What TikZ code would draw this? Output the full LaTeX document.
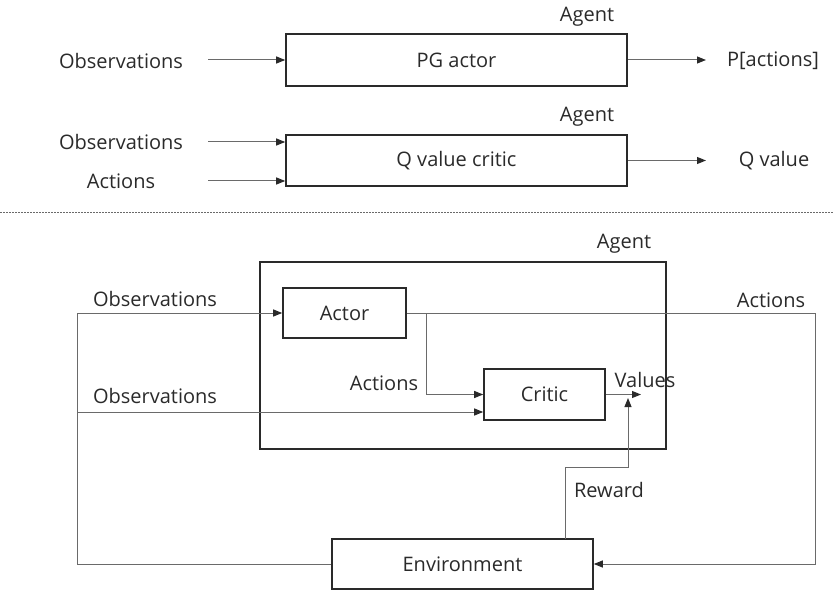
\documentclass[tikz,border=0pt]{standalone}
\usepackage{fontspec}
\setmainfont{Open Sans}
\usetikzlibrary{positioning,arrows.meta}

\definecolor{ink}{HTML}{2A2A2A}
\definecolor{wire}{HTML}{6A6A6A}

\begin{document}
\begin{tikzpicture}[x=1pt,y=-1pt,font=\fontsize{20}{24}\selectfont,text=ink]
  \useasboundingbox (0,0) rectangle (833,591);
  \tikzstyle{blk}=[draw=ink,line width=1.6pt,inner sep=0pt];
  \tikzstyle{conn}=[draw=wire,line width=1pt];
  \tikzstyle{arr}=[conn,-{Triangle[length=9pt,width=7pt,color=ink]}];

  % upper half: single actor and single critic
  \node[blk,minimum width=341pt,minimum height=52pt] (pg) at (456.5,60) {PG actor};
  \node[blk,minimum width=341pt,minimum height=51pt] (qc) at (456.5,160.5) {Q value critic};
  \coordinate (inA) at (208,60);
  \coordinate (inB) at (208,142);
  \coordinate (inC) at (208,181);
  \coordinate (outA) at (706,60);
  \coordinate (outB) at (706,160.5);
  \draw[arr] (inA) -- (inA -| pg.west);
  \draw[arr] (pg.east) -- (outA);
  \draw[arr] (inB) -- (inB -| qc.west);
  \draw[arr] (inC) -- (inC -| qc.west);
  \draw[arr] (qc.east) -- (outB);

  \draw[wire,line width=0.8pt,dash pattern=on 1.5pt off 1.5pt] (0,212) -- (833,212);

  % lower half: actor-critic loop
  \node[blk,minimum width=406pt,minimum height=187pt] (agent) at (463,355.5) {};
  \node[blk,minimum width=123pt,minimum height=50pt] (actor) at (344.5,313) {Actor};
  \node[blk,minimum width=121pt,minimum height=51pt] (critic) at (544.5,394.5) {Critic};
  \node[blk,minimum width=261pt,minimum height=50pt] (env) at (462.5,564) {Environment};

  \foreach \n/\x/\y/\t in {obsA/121/61/Observations, pact/773/61/P[actions],
      agentA/587/17/Agent, obsB/121/142/Observations, actB/121/181/Actions,
      agentB/587/117/Agent, qval/774/161/Q value, agentC/624/244/Agent,
      obsC/155/299/Observations, obsD/155/396/Observations, actC/384/383/Actions,
      vals/645/380/Values, actD/771/300/Actions, rew/609/490/Reward}{
    \node[inner sep=0pt] (\n) at (\x,\y) {\t};
  }

  \coordinate (lbot) at (77,564);
  \coordinate (ltop) at (77,313);
  \coordinate (lmid) at (77,412);
  \coordinate (rtop) at (815,313);
  \coordinate (rbot) at (815,564);
  \coordinate (split) at (426,313);
  \coordinate (vtip) at (641,394.5);
  \coordinate (rewA) at (565,539);
  \coordinate (rewB) at (565,467);
  \coordinate (rewC) at (628,467);
  \coordinate (rewD) at (628,398);

  \draw[arr] (env.west) -- (lbot) -- (ltop) -- (actor.west);
  \draw[arr] (lmid) -- (lmid -| critic.west);
  \draw[arr] (actor.east) -- (rtop) -- (rbot) -- (env.east);
  \draw[arr] (split) |- (critic.west);
  \draw[arr] (critic.east) -- (vtip);
  \draw[arr] (rewA) -- (rewB) -- (rewC) -- (rewD);
\end{tikzpicture}
\end{document}
